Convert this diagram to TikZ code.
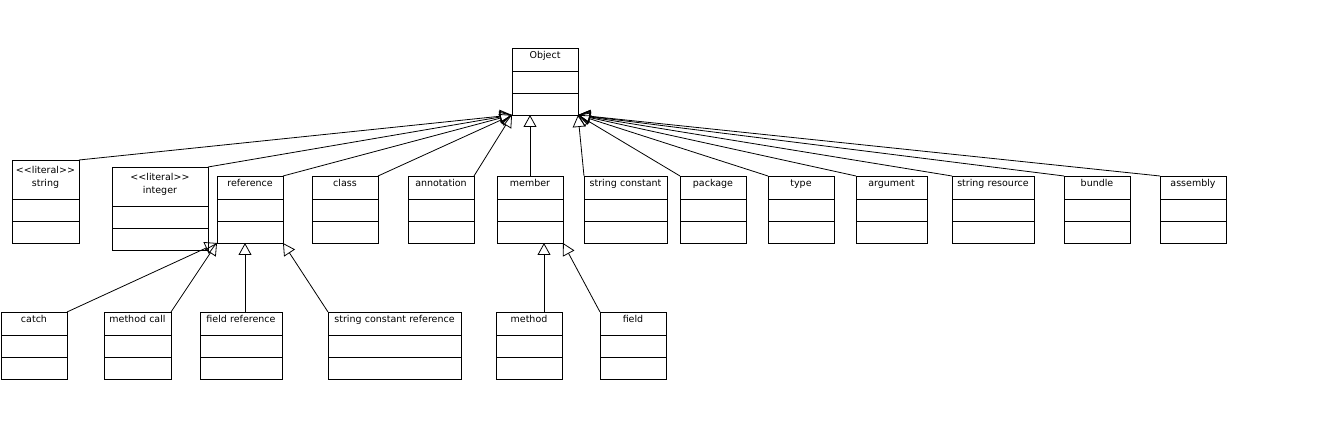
\documentclass[tikz,border=0pt]{standalone}
\usepackage{fontspec}
\setmainfont{DejaVu Sans}
\usetikzlibrary{arrows.meta}
\begin{document}
\begin{tikzpicture}[x=1pt, y=-1pt, line width=0.8pt,
  every node/.style={draw=black, fill=none, anchor=north west, inner sep=0pt, outer sep=0pt,
    align=center, text width=66pt, text height=10.5pt, text depth=56.5pt, font=\fontsize{9.5pt}{13pt}\selectfont,
    path picture={\draw[line width=0.8pt] ([yshift=22pt]path picture bounding box.south west) -- ([yshift=22pt]path picture bounding box.south east)
      ([yshift=44pt]path picture bounding box.south west) -- ([yshift=44pt]path picture bounding box.south east);}},
  literal/.style={text height=13.5pt, text depth=69.5pt},
  gen/.style={-{Triangle[open, length=12pt, width=13pt]}}]
  \useasboundingbox (0,0) rectangle (1322,427);
  \node (Object) at (512,48) {Object};
  \node[literal, text width=67pt] (string) at (12,160) {{<}{<}literal{>}{>}\\string};
  \node[literal, text width=96pt] (integer) at (112,167) {{<}{<}literal{>}{>}\\integer};
  \node (reference) at (217,176) {reference};
  \node (class) at (312,176) {class};
  \node (annotation) at (408,176) {annotation};
  \node (member) at (497,176) {member};
  \node[text width=83pt] (strconst) at (584,176) {string constant};
  \node (package) at (680,176) {package};
  \node (type) at (768,176) {type};
  \node[text width=71pt] (argument) at (856,176) {argument};
  \node[text width=82pt] (strres) at (952,176) {string resource};
  \node (bundle) at (1064,176) {bundle};
  \node (assembly) at (1160,176) {assembly};
  \node (catch) at (1,312) {catch};
  \node[text width=67pt] (methodcall) at (104,312) {method call};
  \node[text width=82pt] (fieldref) at (200,312) {field reference};
  \node[text width=133pt] (strconstref) at (328,312) {string constant reference};
  \node (method) at (496,312) {method};
  \node (field) at (600,312) {field};
  \draw[gen] (string.north east) -- (Object.south west);
  \draw[gen] (integer.north east) -- (Object.south west);
  \draw[gen] (reference.north east) -- (Object.south west);
  \draw[gen] (class.north east) -- (Object.south west);
  \draw[gen] (annotation.north east) -- (Object.south west);
  \draw[gen] (member.north) -- (member.north |- Object.south);
  \draw[gen] (strconst.north west) -- (Object.south east);
  \draw[gen] (package.north west) -- (Object.south east);
  \draw[gen] (type.north west) -- (Object.south east);
  \draw[gen] (argument.north west) -- (Object.south east);
  \draw[gen] (strres.north west) -- (Object.south east);
  \draw[gen] (bundle.north west) -- (Object.south east);
  \draw[gen] (assembly.north west) -- (Object.south east);
  \draw[gen] (catch.north east) -- (reference.south west);
  \draw[gen] (methodcall.north east) -- (reference.south west);
  \draw[gen] ([xshift=4pt]fieldref.north) -- ([xshift=4pt]fieldref.north |- reference.south);
  \draw[gen] (strconstref.north west) -- (reference.south east);
  \draw[gen] ([xshift=15pt]method.north) -- ([xshift=15pt]method.north |- member.south);
  \draw[gen] (field.north west) -- (member.south east);
\end{tikzpicture}
\end{document}
